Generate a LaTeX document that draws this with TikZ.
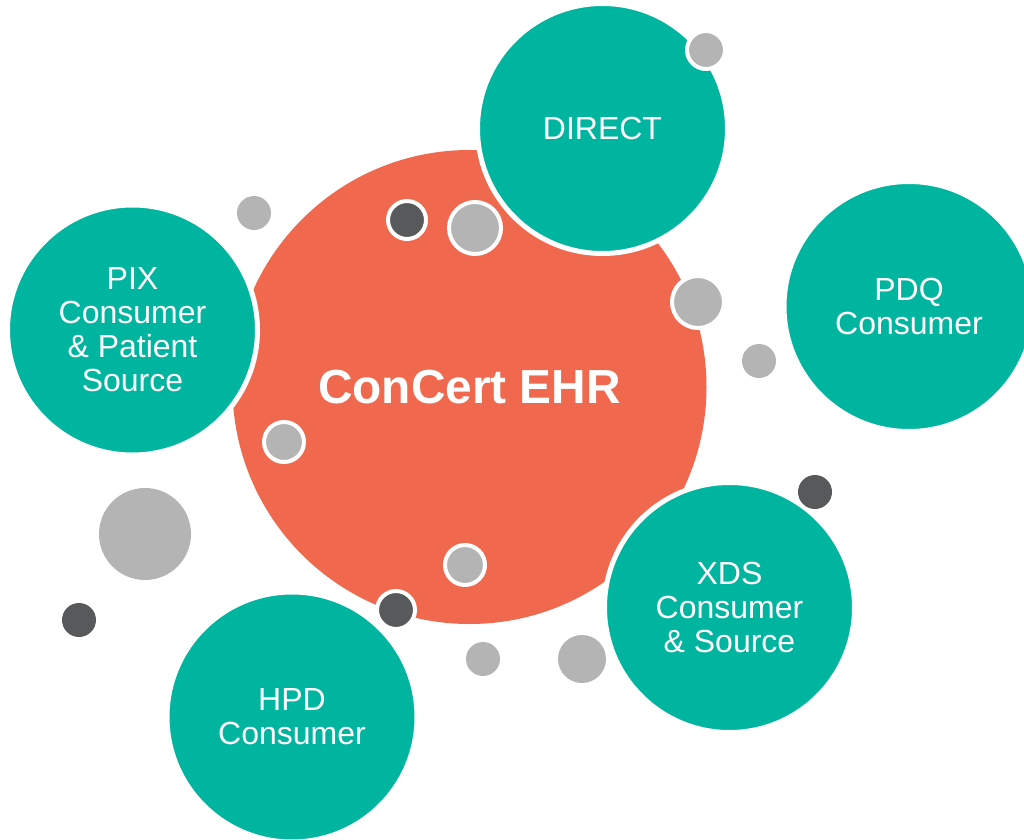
\documentclass[tikz,border=0pt]{standalone}
\usepackage{fontspec}
\setmainfont{Liberation Sans}
\definecolor{tealc}{RGB}{0,181,160}
\definecolor{orangec}{RGB}{240,104,77}
\definecolor{grayc}{RGB}{180,180,180}
\definecolor{darkc}{RGB}{88,89,91}
\begin{document}
\begin{tikzpicture}[line join=round, line cap=round, font=\fontsize{9.1}{9.7}\selectfont]
				\tikzset{hub/.style={circle, fill=orangec, minimum size=4.74cm, inner sep=0pt, text=white, font=\fontsize{13.6}{15}\selectfont\bfseries},
					sat/.style={circle, fill=tealc, draw=white, line width=0.05cm, minimum size=2.5cm, inner sep=0pt, text=white, align=center}}
				\useasboundingbox (0,0) rectangle (10.24,8.39);
				\node[hub] (ehr) at (4.695,4.52) {ConCert EHR};
				\node[sat] (direct) at (6.025,7.105) {DIRECT};
				\node[sat] (pdq) at (9.09,5.325) {PDQ\\Consumer};
				\node[sat] (pix) at (1.325,5.09) {PIX\\Consumer\\\& Patient\\Source};
				\node[sat] (xds) at (7.295,2.315) {XDS\\Consumer\\\& Source};
				\node[sat] (hpd) at (2.92,1.22) {HPD\\Consumer};
				% dots with a white ring
				\foreach \x/\y/\r/\c in {7.06/7.89/0.19/grayc, 4.07/6.19/0.19/darkc, 4.75/6.11/0.26/grayc, 6.98/5.37/0.26/grayc, 2.84/3.97/0.20/grayc, 4.65/2.74/0.20/grayc, 3.96/2.29/0.19/darkc}
					\filldraw[fill=\c, draw=white, line width=0.04cm] (\x,\y) circle(\r);
				% loose dots
				\foreach \x/\y/\r/\c in {2.54/6.26/0.17/grayc, 7.59/4.78/0.17/grayc, 1.45/3.05/0.46/grayc, 8.15/3.47/0.17/darkc, 0.79/2.19/0.17/darkc, 4.83/1.80/0.17/grayc, 5.82/1.80/0.24/grayc}
					\fill[\c] (\x,\y) circle(\r);
			\end{tikzpicture}
\end{document}
